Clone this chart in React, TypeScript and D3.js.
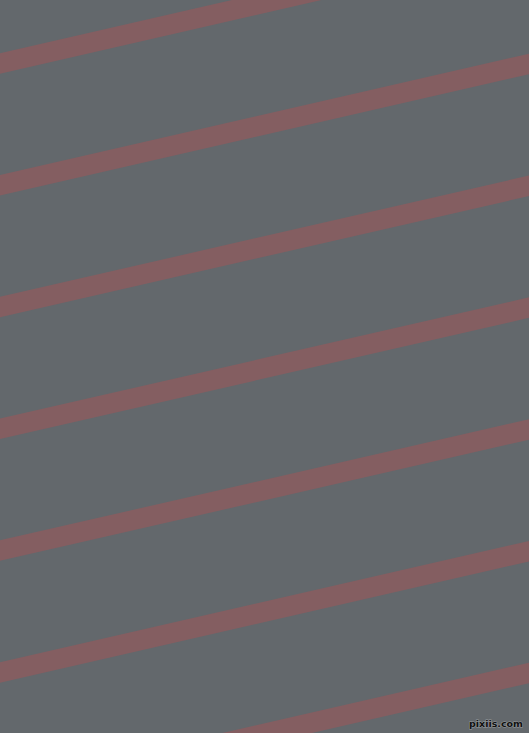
import React from "react";
import * as d3 from "d3";

const W = 529;
const H = 733;
const stripeIndices = [-1, 0, 1, 2, 3, 4, 5, 6, 7];
const stripeColor = "#845e61";
const bgColor = "#63686c";
const stripeWidthV = 20.5; // vertical thickness
const watermark = "pixiis.com";

export default function App() {
  // stripe index -> left-edge centre y
  const yLeft = d3.scaleLinear().domain([0, 1]).range([63.4, 185.2]);
  const drop = 121.2;
  const angle = Math.atan2(drop, W);
  const strokeW = stripeWidthV * Math.cos(angle);
  const line = d3.line<[number, number]>().x((d) => d[0]).y((d) => d[1]);
  return (
    <svg
      width={W}
      height={H}
      style={{ position: "fixed", left: 0, top: 0, display: "block" }}
    >
      <rect x={0} y={0} width={W} height={H} fill={bgColor} />
      {stripeIndices.map((k) => {
        const y0 = yLeft(k);
        const y1 = y0 - drop;
        return (
          <path
            key={k}
            d={line([
              [-20, y0 + (20 * drop) / W],
              [W + 20, y1 - (20 * drop) / W],
            ]) as string}
            stroke={stripeColor}
            strokeWidth={strokeW}
            fill="none"
          />
        );
      })}
      <text
        x={523}
        y={727}
        textAnchor="end"
        fontFamily="DejaVu Sans, sans-serif"
        fontWeight="bold"
        fontSize={9.5}
        fill="#111111"
        stroke="#9a9ea1"
        strokeWidth={1}
        paintOrder="stroke"
      >
        {watermark}
      </text>
    </svg>
  );
}
